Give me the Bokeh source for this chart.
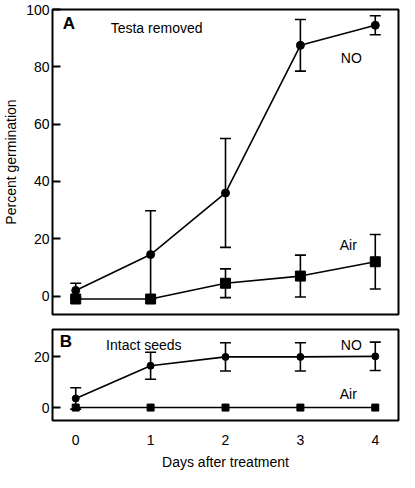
from bokeh.plotting import figure
from bokeh.models import ColumnDataSource, Whisker, Range1d, Label, FixedTicker
from bokeh.layouts import column
from bokeh.embed import file_html
from bokeh.resources import INLINE

days = [0, 1, 2, 3, 4]
# Panel A: testa removed
a_no = [2.0, 14.5, 36.0, 87.5, 94.5]
a_no_err = [2.5, 15.3, 19.0, 9.0, 3.3]
a_air = [-1.0, -1.0, 4.5, 7.0, 12.0]
a_air_err = [0.0, 0.0, 5.0, 7.3, 9.5]
# Panel B: intact seeds
b_no = [3.6, 16.5, 20.0, 20.0, 20.2]
b_no_err = [4.2, 5.3, 5.6, 5.6, 5.6]
b_air = [0.0, 0.0, 0.0, 0.0, 0.0]

yticks_a = [0, 20, 40, 60, 80, 100]
yticks_b = [0, 20]

FONT = "Liberation Sans"
FS = "14px"


def style(p, yticks):
    p.outline_line_color = "black"
    p.outline_line_width = 2
    p.background_fill_color = "white"
    p.border_fill_color = "white"
    p.xgrid.visible = False
    p.ygrid.visible = False
    p.yaxis.ticker = FixedTicker(ticks=yticks)
    p.yaxis.axis_line_color = None
    p.yaxis.major_tick_in = 8
    p.yaxis.major_tick_out = 0
    p.yaxis.major_tick_line_width = 2
    p.yaxis.minor_tick_line_color = None
    p.yaxis.major_label_standoff = 3
    p.yaxis.major_label_text_font = FONT
    p.yaxis.major_label_text_font_size = FS
    p.yaxis.major_label_text_color = "black"


def series(p, y, err, marker, size, with_err=True):
    src = ColumnDataSource(dict(
        x=days, y=y,
        lo=[v - e for v, e in zip(y, err)],
        hi=[v + e for v, e in zip(y, err)],
        e=err))
    p.line("x", "y", source=src, line_color="black", line_width=1.6)
    if with_err:
        w = Whisker(base="x", lower="lo", upper="hi", source=src,
                    line_color="black", line_width=1.6)
        w.upper_head.size = 11
        w.lower_head.size = 11
        w.upper_head.line_width = 1.6
        w.lower_head.line_width = 1.6
        w.upper_head.line_color = "black"
        w.lower_head.line_color = "black"
        p.add_layout(w)
    p.scatter("x", "y", source=src, marker=marker, size=size,
              fill_color="black", line_color="black")


def label(p, x, y, text, bold=False, size=FS):
    p.add_layout(Label(x=x, y=y, text=text, text_font=FONT,
                       text_font_size=size, text_align="center",
                       text_baseline="middle", text_color="black",
                       text_font_style="bold" if bold else "normal"))


xr = (-0.31, 4.31)

pA = figure(width=401, height=321, output_backend="svg", toolbar_location=None,
            x_range=Range1d(*xr), y_range=Range1d(-6.4, 100),
            min_border_left=48, min_border_right=3, min_border_top=9,
            min_border_bottom=7)
style(pA, yticks_a)
pA.xaxis.visible = False
pA.yaxis.axis_label = "Percent germination"
pA.yaxis.axis_label_text_font = FONT
pA.yaxis.axis_label_text_font_size = FS
pA.yaxis.axis_label_text_font_style = "normal"
pA.yaxis.axis_label_text_color = "black"
pA.yaxis.axis_label_standoff = 4

series(pA, a_air, a_air_err, "square", 10)
series(pA, a_no, a_no_err, "circle", 8)
label(pA, -0.09, 95, "A", bold=True, size="17px")
label(pA, 1.08, 93.6, "Testa removed")
label(pA, 3.68, 83, "NO")
label(pA, 3.64, 18, "Air")

pB = figure(width=401, height=151, output_backend="svg", toolbar_location=None,
            x_range=Range1d(*xr), y_range=Range1d(-5.1, 30.8),
            min_border_left=48, min_border_right=3, min_border_top=8,
            min_border_bottom=43)
style(pB, yticks_b)
pB.xaxis.ticker = FixedTicker(ticks=days)
pB.xaxis.axis_line_color = None
pB.xaxis.major_tick_line_color = None
pB.xaxis.minor_tick_line_color = None
pB.xaxis.major_label_standoff = 8
pB.xaxis.major_label_text_font = FONT
pB.xaxis.major_label_text_font_size = FS
pB.xaxis.major_label_text_color = "black"
pB.xaxis.axis_label = "Days after treatment"
pB.xaxis.axis_label_text_font = FONT
pB.xaxis.axis_label_text_font_size = FS
pB.xaxis.axis_label_text_font_style = "normal"
pB.xaxis.axis_label_text_color = "black"
pB.xaxis.axis_label_standoff = 6

series(pB, b_air, [0] * 5, "square", 7, with_err=False)
series(pB, b_no, b_no_err, "circle", 7)
label(pB, -0.13, 25.9, "B", bold=True, size="17px")
label(pB, 0.91, 24.7, "Intact seeds")
label(pB, 3.68, 24.5, "NO")
label(pB, 3.64, 5.4, "Air")

layout = column(pA, pB)
open("out.html", "w").write(file_html(layout, INLINE))
